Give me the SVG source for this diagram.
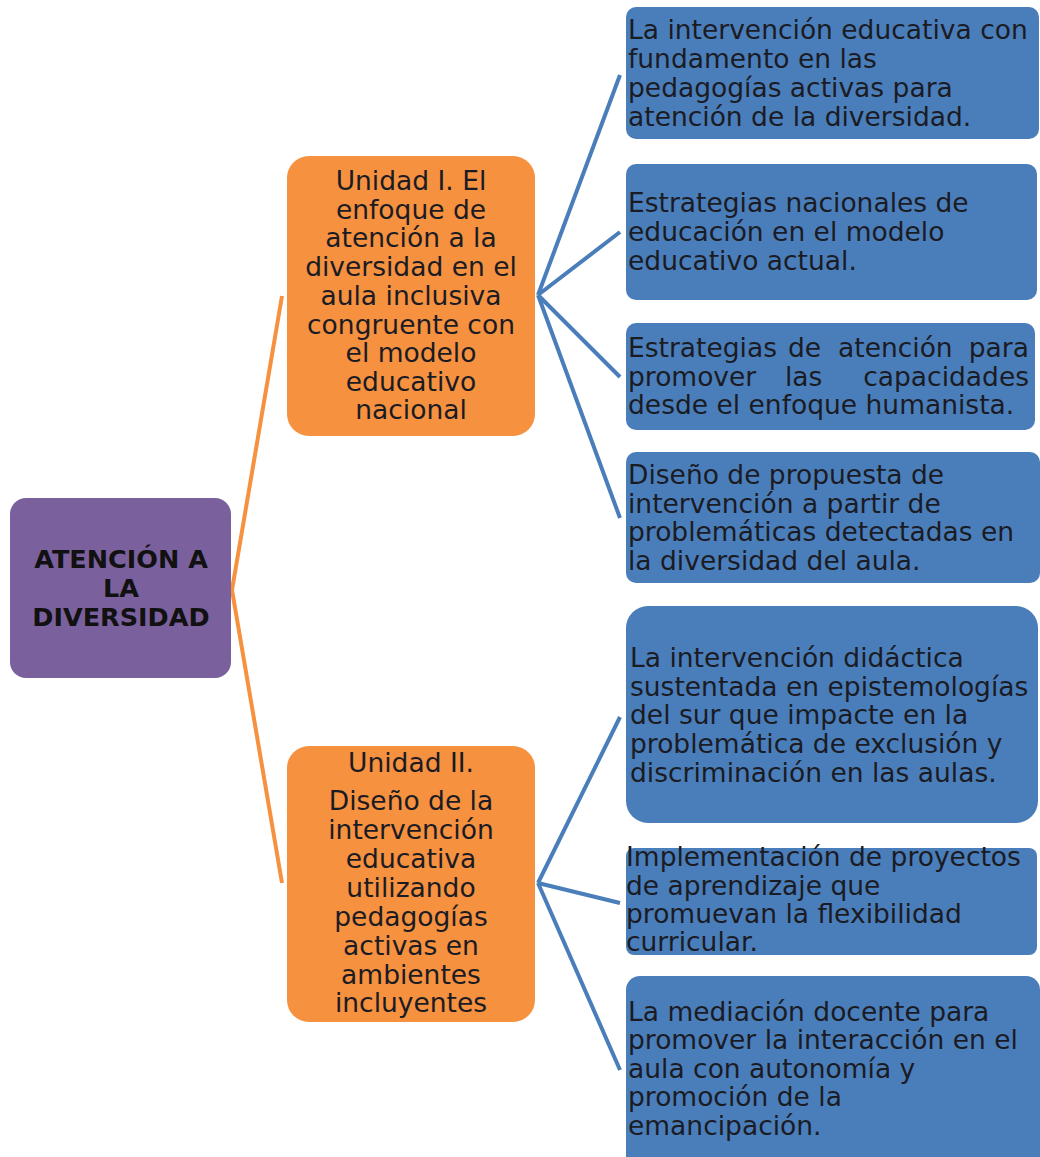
<svg xmlns="http://www.w3.org/2000/svg" width="1040" height="1157" viewBox="0 0 1040 1157">
<style>
.root{fill:#7B609E}
.unit{fill:#F5913F}
.leaf{fill:#4A7EBA}
.t{font-family:"DejaVu Sans","Noto Sans",sans-serif;font-size:26.5px;fill:#1B1B24}
.c{text-anchor:middle}
.e{text-anchor:end}
.b{font-weight:bold;font-size:25.5px;fill:#111}
.lo{stroke:#F5913F;stroke-width:4;fill:none}
.lb{stroke:#4A7EBA;stroke-width:4;fill:none}
</style>
<rect width="1040" height="1157" fill="#fff"/>
<g id="connectors">
<path class="lo" d="M282,296 L232,590 L282,883"/>
<path class="lb" d="M538,295 L620,75 M538,295 L620,232 M538,295 L620,377 M538,295 L620,518"/>
<path class="lb" d="M538,883 L620,717 M538,883 L620,903 M538,883 L620,1070"/>
</g>
<g id="root">
<rect class="root" x="10" y="498" width="221" height="180" rx="16"/>
<text class="t c b" x="121" y="568">ATENCIÓN A</text>
<text class="t c b" x="121" y="597">LA</text>
<text class="t c b" x="121" y="626">DIVERSIDAD</text>
</g>
<g id="unit1">
<rect class="unit" x="287" y="156" width="248" height="280" rx="22"/>
<text class="t c" x="411" y="190">Unidad I. El</text>
<text class="t c" x="411" y="219">enfoque de</text>
<text class="t c" x="411" y="247">atención a la</text>
<text class="t c" x="411" y="276">diversidad en el</text>
<text class="t c" x="411" y="305">aula inclusiva</text>
<text class="t c" x="411" y="334">congruente con</text>
<text class="t c" x="411" y="362">el modelo</text>
<text class="t c" x="411" y="391">educativo</text>
<text class="t c" x="411" y="419">nacional</text>
</g>
<g id="unit2">
<rect class="unit" x="287" y="746" width="248" height="276" rx="22"/>
<text class="t c" x="411" y="772">Unidad II.</text>
<text class="t c" x="411" y="810">Diseño de la</text>
<text class="t c" x="411" y="839">intervención</text>
<text class="t c" x="411" y="868">educativa</text>
<text class="t c" x="411" y="897">utilizando</text>
<text class="t c" x="411" y="926">pedagogías</text>
<text class="t c" x="411" y="955">activas en</text>
<text class="t c" x="411" y="984">ambientes</text>
<text class="t c" x="411" y="1012">incluyentes</text>
</g>
<g id="leaf1">
<rect class="leaf" x="626" y="7" width="413" height="132" rx="10"/>
<text class="t" x="628" y="39">La intervención educativa con</text>
<text class="t" x="628" y="68">fundamento en las</text>
<text class="t" x="628" y="97">pedagogías activas para</text>
<text class="t" x="628" y="126">atención de la diversidad.</text>
</g>
<g id="leaf2">
<rect class="leaf" x="626" y="164" width="411" height="136" rx="10"/>
<text class="t" x="628" y="212">Estrategias nacionales de</text>
<text class="t" x="628" y="241">educación en el modelo</text>
<text class="t" x="628" y="270">educativo actual.</text>
</g>
<g id="leaf3">
<rect class="leaf" x="626" y="323" width="409" height="107" rx="10"/>
<text class="t" y="357"><tspan x="628">Estrategias</tspan> <tspan x="788">de</tspan> <tspan x="838">atención</tspan></text>
<text class="t e" x="1029" y="357">para</text>
<text class="t" y="386"><tspan x="628">promover</tspan> <tspan x="785">las</tspan></text>
<text class="t e" x="1029" y="386">capacidades</text>
<text class="t" x="628" y="414">desde el enfoque humanista.</text>
</g>
<g id="leaf4">
<rect class="leaf" x="626" y="452" width="414" height="131" rx="10"/>
<text class="t" x="628" y="484">Diseño de propuesta de</text>
<text class="t" x="628" y="513">intervención a partir de</text>
<text class="t" x="628" y="541">problemáticas detectadas en</text>
<text class="t" x="628" y="570">la diversidad del aula.</text>
</g>
<g id="leaf5">
<rect class="leaf" x="626" y="606" width="412" height="217" rx="22"/>
<text class="t" x="630" y="667">La intervención didáctica</text>
<text class="t" x="630" y="696">sustentada en epistemologías</text>
<text class="t" x="630" y="724">del sur que impacte en la</text>
<text class="t" x="630" y="753">problemática de exclusión y</text>
<text class="t" x="630" y="782">discriminación en las aulas.</text>
</g>
<g id="leaf6">
<rect class="leaf" x="626" y="848" width="411" height="107" rx="8"/>
<text class="t" x="626" y="866">Implementación de proyectos</text>
<text class="t" x="626" y="895">de aprendizaje que</text>
<text class="t" x="626" y="923">promuevan la flexibilidad</text>
<text class="t" x="626" y="951">curricular.</text>
</g>
<g id="leaf7">
<rect class="leaf" x="626" y="976" width="414" height="200" rx="14"/>
<text class="t" x="628" y="1021">La mediación docente para</text>
<text class="t" x="628" y="1049">promover la interacción en el</text>
<text class="t" x="628" y="1078">aula con autonomía y</text>
<text class="t" x="628" y="1106">promoción de la</text>
<text class="t" x="628" y="1135">emancipación.</text>
</g>
</svg>
